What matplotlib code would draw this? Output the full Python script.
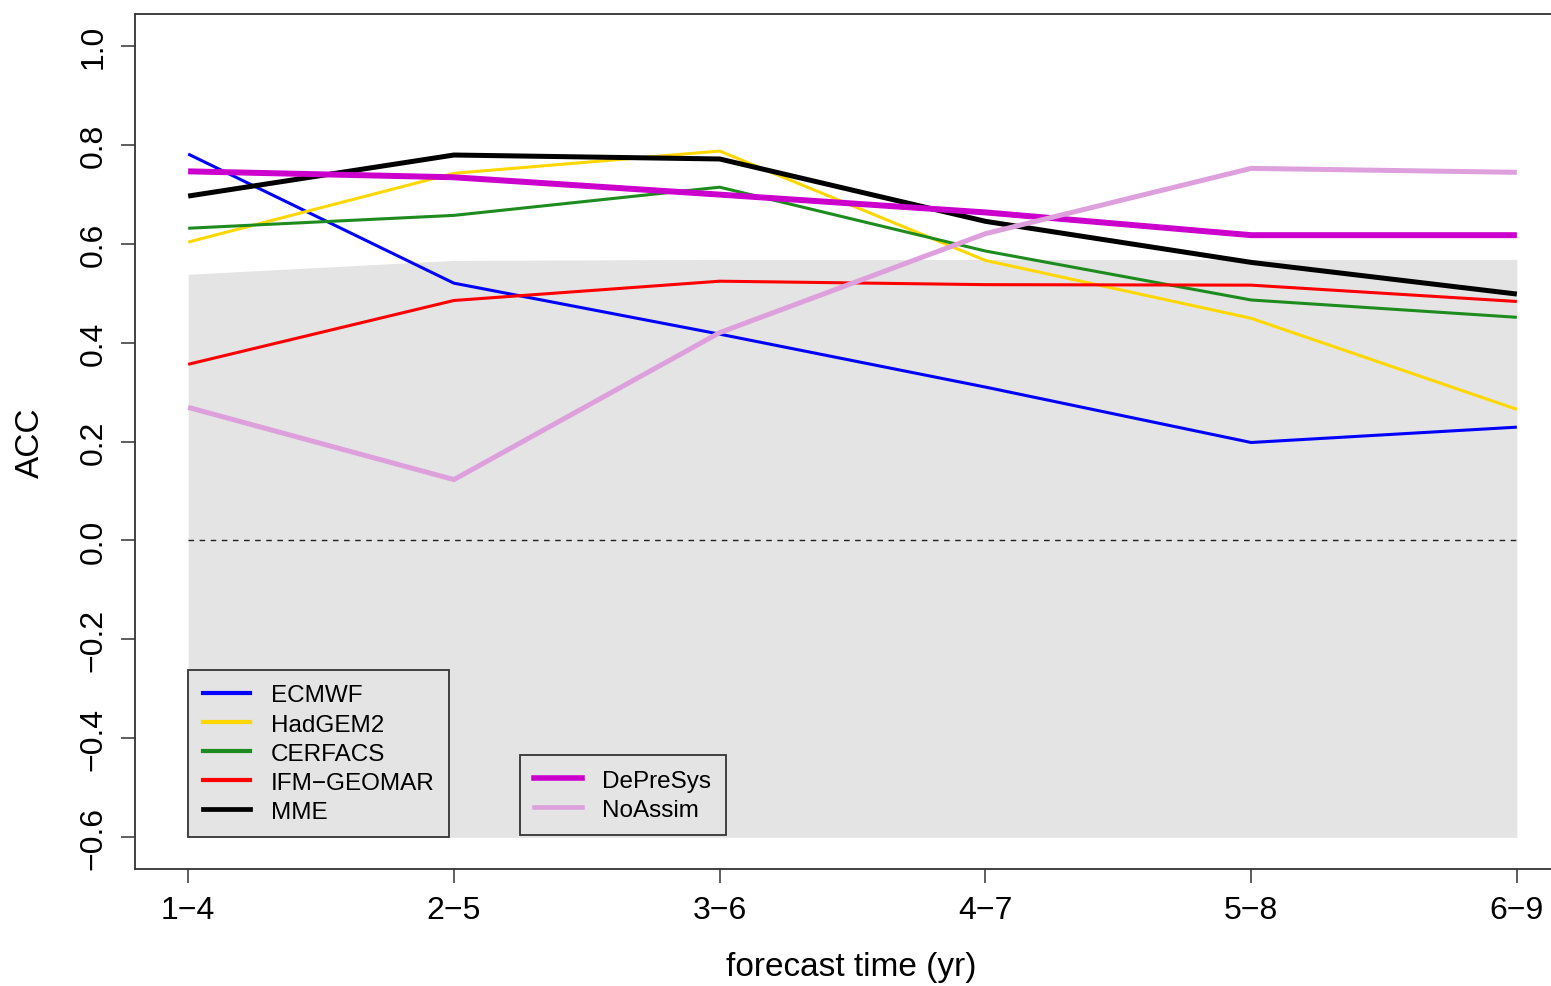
import numpy as np
import matplotlib
matplotlib.use("Agg")
import matplotlib.pyplot as plt

# --- données ---
leads = ["1\u22124", "2\u22125", "3\u22126", "4\u22127", "5\u22128", "6\u22129"]
ecmwf = [0.781, 0.520, 0.417, 0.310, 0.198, 0.229]
hadgem2 = [0.603, 0.742, 0.787, 0.566, 0.449, 0.265]
cerfacs = [0.631, 0.657, 0.714, 0.585, 0.486, 0.451]
ifm_geomar = [0.356, 0.485, 0.524, 0.517, 0.516, 0.483]
mme = [0.696, 0.779, 0.771, 0.645, 0.562, 0.498]
depresys = [0.746, 0.734, 0.699, 0.663, 0.617, 0.617]
noassim = [0.269, 0.123, 0.420, 0.620, 0.752, 0.744]
# bande grise (seuil de significativité)
band_upper = [0.538, 0.566, 0.568, 0.568, 0.568, 0.568]
band_lower = -0.6

yticks = [-0.6, -0.4, -0.2, 0.0, 0.2, 0.4, 0.6, 0.8, 1.0]

plt.rcParams["font.family"] = ["Liberation Sans", "DejaVu Sans"]

fig = plt.figure(figsize=(15.51, 9.87), dpi=100)
ax = fig.add_axes([135 / 1551, 117 / 987, 1435 / 1551, 855 / 987])

x = np.arange(1, len(leads) + 1)

ax.fill_between(x, band_lower, band_upper, color="#E4E4E4", lw=0, zorder=1)
ax.plot([x[0], x[-1]], [0, 0], color="#222222", lw=1.0, dashes=(4, 4), zorder=2)

# (nom, valeurs, couleur, épaisseur courbe, épaisseur dans la légende)
models = [
    ("ECMWF", ecmwf, "#0000FF", 2.2, 3.0),
    ("HadGEM2", hadgem2, "#FFD700", 2.2, 3.0),
    ("CERFACS", cerfacs, "#1E8B1E", 2.2, 3.0),
    ("IFM\u2212GEOMAR", ifm_geomar, "#FF0000", 2.2, 3.0),
    ("MME", mme, "#000000", 3.6, 3.4),
]
others = [
    ("DePreSys", depresys, "#CC00CC", 4.3, 4.0),
    ("NoAssim", noassim, "#DDA0DD", 3.6, 3.3),
]


def draw(series):
    handles = []
    for name, vals, col, lw, lw_leg in series:
        ax.plot(x, vals, color=col, lw=lw, zorder=3,
                solid_joinstyle="round", solid_capstyle="butt")
        handles.append(plt.Line2D([], [], color=col, lw=lw_leg, label=name))
    return handles


h1 = draw(models)
h2 = draw(others)

ax.set_xlim(0.8, 6.2)
ax.set_ylim(-0.664, 1.064)
ax.set_xticks(x)
ax.set_xticklabels(leads)
ax.set_yticks(yticks)
ax.set_yticklabels([f"{v:.1f}".replace("-", "\u2212") for v in yticks])
ax.tick_params(axis="both", labelsize=23, length=10, width=1.1, color="#333333", pad=9)
ax.tick_params(axis="y", labelrotation=90)
for lab in ax.get_yticklabels():
    lab.set_va("center")
for sp in ax.spines.values():
    sp.set_color("#333333")
    sp.set_linewidth(1.3)
ax.spines["right"].set_visible(False)

fig.text(30 / 1551, 1 - 443 / 987, "ACC", rotation=90, ha="center", va="center", fontsize=24)
fig.text(851 / 1551, 1 - 968 / 987, "forecast time (yr)", ha="center", va="center", fontsize=24)

leg_kw = dict(fontsize=17.5, frameon=True, fancybox=False, framealpha=1.0,
              handlelength=1.95, handletextpad=0.85, labelspacing=0.29,
              borderpad=0.6, borderaxespad=0)
leg1 = ax.legend(handles=h1, loc="lower left", bbox_to_anchor=(1.0, -0.6),
                 bbox_transform=ax.transData, **leg_kw)
ax.add_artist(leg1)
leg2 = ax.legend(handles=h2, loc="lower left", bbox_to_anchor=(2.248, -0.596),
                 bbox_transform=ax.transData, **leg_kw)
for leg in (leg1, leg2):
    leg.get_frame().set_facecolor("none")
    leg.get_frame().set_edgecolor("#333333")
    leg.get_frame().set_linewidth(1.3)

fig.savefig("out.png", dpi=100)
